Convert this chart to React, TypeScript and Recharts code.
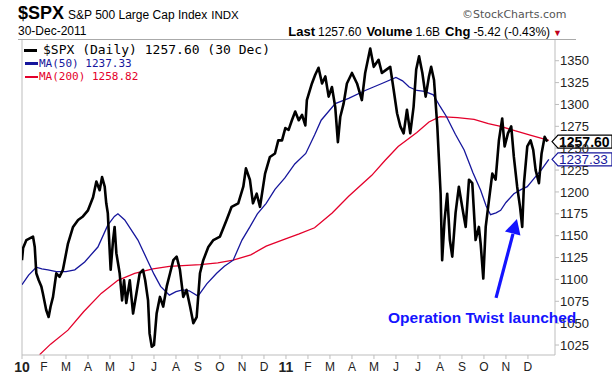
import React from "react";
import { LineChart, Line, XAxis, YAxis, ReferenceLine, ReferenceDot } from "recharts";

// x positions are in months from Jan 2010 (0 = start of Jan 2010)
const monthLabels = ["10", "F", "M", "A", "M", "J", "J", "A", "S", "O", "N", "D", "11", "F", "M", "A", "M", "J", "J", "A", "S", "O", "N", "D"];
const monthTicks = monthLabels.map((_, i) => i);
const priceTicks = [1025, 1050, 1075, 1100, 1125, 1150, 1175, 1200, 1225, 1250, 1275, 1300, 1325, 1350];

const spxT = [
  0, 0.05, 0.2, 0.35, 0.5, 0.58, 0.65, 0.76, 0.88, 0.95, 1.1, 1.21, 1.3, 1.41, 1.56, 1.71, 1.86, 2.09, 2.32, 2.55,
  2.77, 3.0, 3.23, 3.38, 3.53, 3.64, 3.76, 3.83, 3.9, 4.03, 4.14, 4.21, 4.29, 4.44, 4.55, 4.64, 4.74, 4.9, 5.05, 5.2,
  5.35, 5.5, 5.6, 5.73, 5.8, 5.9, 6.0, 6.12, 6.27, 6.42, 6.58, 6.73, 6.88, 7.03, 7.18, 7.33, 7.48, 7.64, 7.79, 7.94,
  8.09, 8.24, 8.47, 8.7, 9.0, 9.3, 9.53, 9.83, 10.06, 10.18, 10.36, 10.5, 10.67, 10.82, 11.05, 11.27, 11.5, 11.65, 11.82, 11.97,
  12.12, 12.27, 12.42, 12.58, 12.73, 12.88, 12.95, 13.18, 13.33, 13.48, 13.64, 13.79, 13.94, 14.09, 14.24, 14.36, 14.47, 14.62, 14.77, 15.0,
  15.23, 15.45, 15.6, 15.83, 15.99, 16.21, 16.36, 16.52, 16.74, 16.9, 17.05, 17.2, 17.35, 17.5, 17.65, 17.8, 17.92, 18.05, 18.2, 18.35,
  18.5, 18.6, 18.73, 18.88, 19.03, 19.1, 19.21, 19.33, 19.45, 19.56, 19.71, 19.86, 20.01, 20.17, 20.32, 20.47, 20.62, 20.77, 20.85, 20.97,
  21.08, 21.23, 21.38, 21.53, 21.68, 21.83, 21.94, 22.09, 22.24, 22.36, 22.51, 22.64, 22.74, 22.82, 22.97, 23.12, 23.24, 23.35, 23.5, 23.62,
  23.76, 23.88,
];
const spxV = [
  1122, 1136, 1145, 1147, 1149, 1137, 1107, 1099, 1092, 1084, 1065, 1057, 1069, 1080, 1107, 1103, 1111, 1141, 1160, 1168,
  1172, 1179, 1194, 1212, 1202, 1217, 1206, 1187, 1176, 1111, 1145, 1160, 1130, 1107, 1076, 1099, 1073, 1099, 1061, 1084,
  1107, 1111, 1099, 1076, 1038, 1023, 1025, 1061, 1080, 1069, 1092, 1107, 1122, 1126, 1111, 1080, 1088, 1069, 1050, 1057,
  1107, 1122, 1137, 1145, 1149, 1168, 1183, 1187, 1206, 1227, 1214, 1187, 1198, 1183, 1221, 1240, 1244, 1259, 1259, 1273,
  1271, 1282, 1292, 1282, 1288, 1276, 1305, 1324, 1334, 1342, 1324, 1332, 1309, 1320, 1297, 1257, 1286, 1301, 1324, 1336,
  1324, 1305, 1336, 1364, 1343, 1351, 1336, 1339, 1343, 1316, 1290, 1275, 1267, 1294, 1267, 1297, 1340, 1355, 1336, 1309,
  1332, 1343, 1328, 1275, 1198, 1122, 1168, 1198, 1145, 1126, 1176, 1206, 1183, 1160, 1214, 1210, 1145, 1160, 1141, 1101,
  1160, 1191, 1221, 1214, 1259, 1284, 1252, 1267, 1275, 1240, 1206, 1183, 1160, 1210, 1252, 1259, 1248, 1225, 1210, 1244,
  1263, 1257.6,
];

const ma50T = [
  0, 0.3, 0.65, 0.9, 1.18, 1.56, 2.0, 2.4, 2.85, 3.45, 3.9, 4.2, 4.36, 4.67, 5.27, 5.7, 6.0, 6.3, 6.7, 7.0,
  7.3, 7.6, 8.0, 8.4, 8.85, 9.2, 9.6, 10.0, 10.36, 10.7, 11.1, 11.5, 11.95, 12.4, 12.9, 13.3, 13.6, 14.24, 14.85, 15.6,
  16.36, 17.0, 17.3, 17.6, 17.95, 18.3, 18.7, 19.0, 19.3, 19.7, 20.1, 20.5, 20.85, 21.1, 21.3, 21.55, 21.76, 22.0, 22.36, 22.7,
  22.97, 23.3, 23.6, 23.95,
];
const ma50V = [
  1094, 1105, 1114, 1112, 1111, 1109, 1109, 1111, 1120, 1137, 1162, 1172, 1175, 1168, 1145, 1122, 1106, 1092, 1082, 1086,
  1088, 1087, 1081, 1095, 1107, 1115, 1122, 1145, 1160, 1175, 1187, 1203, 1216, 1232, 1244, 1265, 1282, 1301, 1307, 1316,
  1324, 1331, 1327, 1320, 1316, 1315, 1311, 1298, 1286, 1266, 1248, 1222, 1202, 1184, 1174, 1176, 1179, 1188, 1198, 1203,
  1206, 1216, 1225, 1237.33,
];

const ma200T = [
  0.8, 1.3, 2.09, 2.8, 3.6, 4.36, 5.12, 5.95, 6.7, 7.5, 8.1, 8.9, 9.6, 10.4, 11.1, 11.95, 12.6, 13.3, 14.1, 14.85,
  15.9, 16.5, 17.1, 17.95, 18.5, 19.0, 19.8, 20.55, 21.2, 21.76, 22.4, 23.1, 23.95,
];
const ma200V = [
  1014, 1026, 1042, 1063, 1084, 1099, 1107, 1112, 1115, 1116, 1117, 1119, 1122, 1128, 1138, 1146, 1152, 1159, 1176, 1195,
  1219, 1236, 1252, 1268, 1280, 1286, 1285, 1283, 1278, 1275, 1270, 1265, 1258.82,
];

const lastClose = 1257.6;
const lastMa50 = 1237.33;
const arrowTail = { t: 21.55, v: 1079 };
const arrowBase = { t: 22.32, v: 1152 };
const arrowTip = { t: 22.5, v: 1169 };

const X_MAX = 24.23;
const Y_MIN = 1013.6;
const Y_MAX = 1373.7;

const toPoints = (t: number[], v: number[]) => t.map((x, i) => ({ t: x, v: v[i] }));
const spxData = toPoints(spxT, spxV);
const ma50Data = toPoints(ma50T, ma50V);
const ma200Data = toPoints(ma200T, ma200V);

const ARIAL = "'Liberation Sans', Arial, sans-serif";
const MONO = "'DejaVu Sans Mono', monospace";
const NAVY = "#16169c";
const RED = "#e4002b";
const FRAME = "#bdbdbd";

const MonthTick = ({ x, y, payload }: any) => {
  const label = monthLabels[payload.value];
  const isYear = label.length === 2;
  return (
    <text
      x={x}
      y={y}
      dy={isYear ? 11 : 10}
      textAnchor="middle"
      fontFamily={ARIAL}
      fontSize={isYear ? 14 : 12}
      fontWeight={isYear ? 700 : 400}
      fill="#222"
    >
      {label}
    </text>
  );
};

const priceBox = (text: string, color: string, bold: boolean) => (props: any) => {
  const { cx, cy } = props;
  const h = 6.5;
  const pts = `${cx - 3},${cy} ${cx + 3},${cy - h} ${cx + 57},${cy - h} ${cx + 57},${cy + h} ${cx + 3},${cy + h}`;
  return (
    <g>
      <polygon points={pts} fill="#fff" stroke={color} strokeWidth={1.2} />
      <text
        x={cx + 4}
        y={cy + 5}
        fontFamily={ARIAL}
        fontSize={bold ? 14 : 13.5}
        fontWeight={bold ? 700 : 400}
        fill={color}
      >
        {text}
      </text>
    </g>
  );
};

const ArrowHead = (props: any) => {
  const { cx, cy } = props;
  return <polygon points={`${cx},${cy} ${cx - 12},${cy + 12.5} ${cx + 3.5},${cy + 16.5}`} fill="#1414ff" />;
};

export default function App() {
  return (
    <div style={{ position: "absolute", left: 0, top: 0, width: 612, height: 378, background: "#fff", overflow: "hidden" }}>
      {/* Header */}
      <div style={{ position: "absolute", left: 18, top: 3, whiteSpace: "nowrap", fontFamily: ARIAL, color: "#000" }}>
        <span style={{ fontSize: 18, fontWeight: 700 }}>$SPX</span>
        <span style={{ fontSize: 12, marginLeft: 4 }}>S&amp;P 500 Large Cap Index</span>
        <span style={{ fontSize: 11.5, marginLeft: 4 }}>INDX</span>
      </div>
      <div style={{ position: "absolute", left: 462, top: 8, fontFamily: "'DejaVu Sans', sans-serif", fontSize: 11, color: "#555" }}>
        ©StockCharts.com
      </div>
      <div style={{ position: "absolute", left: 18, top: 24, fontFamily: ARIAL, fontSize: 12, color: "#000" }}>30-Dec-2011</div>
      <div style={{ position: "absolute", right: 50, top: 22, whiteSpace: "nowrap", fontFamily: ARIAL, color: "#000" }}>
        <span style={{ fontSize: 13, fontWeight: 700 }}>Last</span>
        <span style={{ fontSize: 12, marginLeft: 3 }}>1257.60</span>
        <span style={{ fontSize: 13, fontWeight: 700, marginLeft: 5 }}>Volume</span>
        <span style={{ fontSize: 12, marginLeft: 3 }}>1.6B</span>
        <span style={{ fontSize: 13, fontWeight: 700, marginLeft: 5 }}>Chg</span>
        <span style={{ fontSize: 12, marginLeft: 3 }}>-5.42 (-0.43%)</span>
        <span style={{ fontSize: 9, marginLeft: 3, color: "#c0001a" }}>▼</span>
      </div>
      <div style={{ position: "absolute", left: 18, top: 39, width: 558, height: 1, background: "#aaa" }} />

      <div style={{ position: "absolute", left: 0, top: 0 }}>
        <LineChart width={612} height={378} margin={{ top: 40, right: 0, bottom: 0, left: 22 }}>
          <XAxis
            type="number"
            dataKey="t"
            domain={[0, X_MAX]}
            ticks={monthTicks}
            allowDataOverflow
            height={23}
            tick={<MonthTick />}
            tickSize={4}
            tickMargin={2}
            axisLine={{ stroke: FRAME }}
            tickLine={{ stroke: FRAME }}
          />
          <YAxis
            orientation="right"
            type="number"
            domain={[Y_MIN, Y_MAX]}
            ticks={priceTicks}
            allowDataOverflow
            width={57}
            tickSize={4}
            tickMargin={1}
            tick={{ fill: "#222", fontSize: 13, fontFamily: ARIAL }}
            axisLine={{ stroke: FRAME }}
            tickLine={{ stroke: FRAME }}
          />
          <ReferenceLine x={0} stroke={FRAME} />
          <Line data={ma200Data} dataKey="v" type="linear" stroke={RED} strokeWidth={1.3} dot={false} isAnimationActive={false} />
          <Line data={ma50Data} dataKey="v" type="linear" stroke={NAVY} strokeWidth={1.3} dot={false} isAnimationActive={false} />
          <Line data={spxData} dataKey="v" type="linear" stroke="#000" strokeWidth={2.6} strokeLinejoin="round" dot={false} isAnimationActive={false} />
          <ReferenceLine
            segment={[{ x: arrowTail.t, y: arrowTail.v }, { x: arrowBase.t, y: arrowBase.v }]}
            stroke="#1414ff"
            strokeWidth={3.2}
          />
          <ReferenceDot x={arrowTip.t} y={arrowTip.v} shape={ArrowHead} ifOverflow="visible" />
          <ReferenceDot x={X_MAX} y={lastClose} shape={priceBox("1257.60", "#000", true)} ifOverflow="visible" />
          <ReferenceDot x={X_MAX} y={lastMa50} shape={priceBox("1237.33", NAVY, false)} ifOverflow="visible" />
        </LineChart>
      </div>

      {/* Legend */}
      <div style={{ position: "absolute", left: 24, top: 43, whiteSpace: "nowrap", lineHeight: "14px" }}>
        <div style={{ display: "flex", alignItems: "center", height: 14 }}>
          <span style={{ display: "inline-block", width: 13, height: 3, background: "#000", marginRight: 6 }} />
          <span style={{ fontFamily: MONO, fontSize: 13, color: "#000" }}>$SPX (Daily) 1257.60 (30 Dec)</span>
        </div>
        <div style={{ display: "flex", alignItems: "center", height: 13 }}>
          <span style={{ display: "inline-block", width: 13, height: 2.5, background: NAVY, marginLeft: 1, marginRight: 1 }} />
          <span style={{ fontFamily: MONO, fontSize: 11, color: NAVY }}>MA(50) 1237.33</span>
        </div>
        <div style={{ display: "flex", alignItems: "center", height: 14 }}>
          <span style={{ display: "inline-block", width: 13, height: 2.5, background: RED, marginLeft: 1, marginRight: 1 }} />
          <span style={{ fontFamily: MONO, fontSize: 11, color: RED }}>MA(200) 1258.82</span>
        </div>
      </div>

      {/* Annotation */}
      <div style={{ position: "absolute", left: 388, top: 310, fontFamily: ARIAL, fontSize: 15.5, fontWeight: 700, color: "#1414ff", whiteSpace: "nowrap", lineHeight: "16px" }}>
        Operation Twist launched
      </div>
    </div>
  );
}
